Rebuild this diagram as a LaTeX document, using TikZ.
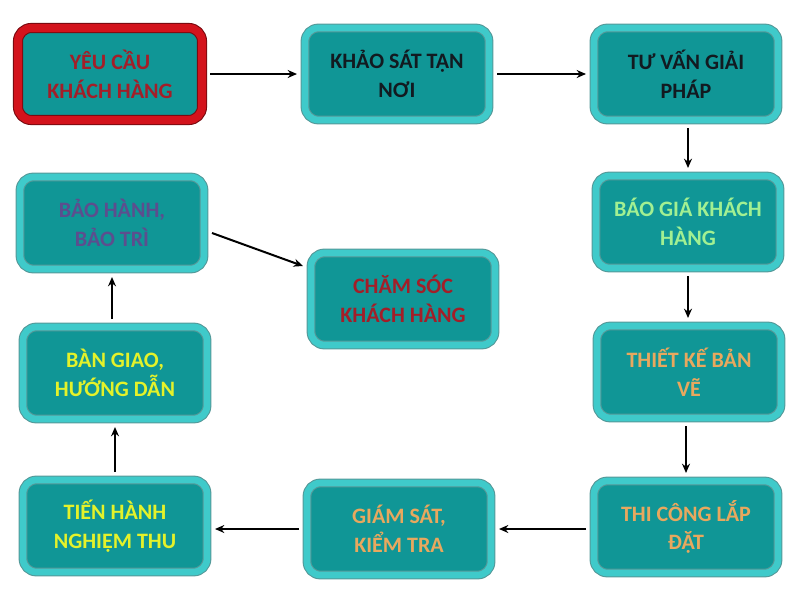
\documentclass[tikz,border=0pt]{standalone}
\usepackage{fontspec}
\setmainfont{Carlito}
\usepackage{tikz}
\usetikzlibrary{arrows.meta, calc}
\definecolor{tealfill}{HTML}{109696}
\definecolor{tealrim}{HTML}{3FCACA}
\definecolor{tealshade}{HTML}{0B6C6C}
\definecolor{redrim}{HTML}{D3131C}
\definecolor{redshade}{HTML}{7A0A10}
\definecolor{textred}{HTML}{A31E28}
\definecolor{textdark}{HTML}{121A20}
\definecolor{textgreen}{HTML}{A2F092}
\definecolor{textorange}{HTML}{E8A85E}
\definecolor{textyellow}{HTML}{E4F22A}
\definecolor{textpurple}{HTML}{5C4E8E}

\begin{document}
\begin{tikzpicture}[
  x=0.75pt, y=-0.75pt,
  flow/.style={draw=black, line width=1.5pt, -{Stealth[length=7pt, width=6pt]}},
  stepbox/.style={fill=tealfill, draw=tealshade!70, double=tealrim, line width=0.8pt,
                  double distance=5pt, rounded corners=10pt, outer sep=6pt,
                  minimum width=138pt, minimum height=69pt, align=center,
                  font=\bfseries\fontsize{16.5}{21.5}\selectfont},
  startbox/.style={stepbox, draw=redshade, double=redrim, double distance=6pt},
]
  % Fixed frame
  \useasboundingbox (0,0) rectangle (800,600);

  % Top row
  \node[startbox, text=textred] (request) at (110,74) {YÊU CẦU\\KHÁCH HÀNG};
  \node[stepbox, text=textdark] (survey) at (397,74) {KHẢO SÁT TẬN\\NƠI};
  \node[stepbox, text=textdark] (consult) at (686,74) {TƯ VẤN GIẢI\\PHÁP};

  % Right column
  \node[stepbox, text=textgreen] (quote) at (688,222) {BÁO GIÁ KHÁCH\\HÀNG};
  \node[stepbox, text=textorange] (design) at (689,372) {THIẾT KẾ BẢN\\VẼ};

  % Bottom row
  \node[stepbox, text=textorange] (build) at (686,527) {THI CÔNG LẮP\\ĐẶT};
  \node[stepbox, text=textorange] (supervise) at (399,529) {GIÁM SÁT,\\KIỂM TRA};
  \node[stepbox, text=textyellow] (accept) at (115,526) {TIẾN HÀNH\\NGHIỆM THU};

  % Left column
  \node[stepbox, text=textyellow] (handover) at (115,373) {BÀN GIAO,\\HƯỚNG DẪN};
  \node[stepbox, text=textpurple] (warranty) at (112,223) {BẢO HÀNH,\\BẢO TRÌ};

  % Middle
  \node[stepbox, text=textred] (care) at (403,299) {CHĂM SÓC\\KHÁCH HÀNG};

  % Flow of the steps
  \draw[flow] (request) -- (survey);
  \draw[flow] (survey) -- (consult);
  \draw[flow] (consult.south -| quote.north) -- (quote.north);
  \draw[flow] (quote.south) -- (quote.south |- design.north);
  \draw[flow] (design.south -| build.north) -- (build.north);
  \draw[flow] (build.west |- supervise.east) -- (supervise.east);
  \draw[flow] (supervise.west) -- (accept.east |- supervise.west);
  \draw[flow] (accept) -- (handover);
  \draw[flow] (handover.north -| warranty.south) -- (warranty.south);
  \draw[flow] ($(warranty.east)+(0,10)$) -- ($(care.west)+(0,-33)$);
\end{tikzpicture}
\end{document}
